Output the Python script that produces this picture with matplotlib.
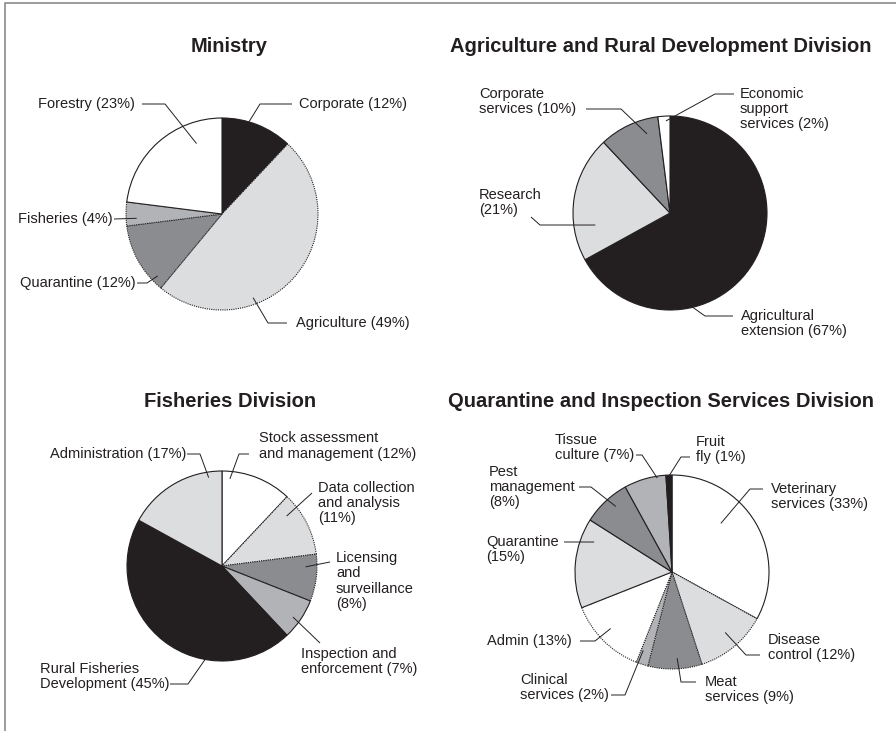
import matplotlib.pyplot as plt
import numpy as np

plt.rcParams['font.family'] = ['Liberation Sans', 'DejaVu Sans']

W, H = 896, 731

# fill shades
BLACK = '#231f20'
DARK = '#8b8c8f'
MID = '#b2b3b6'
LIGHT = '#dcdddf'
WHITE = '#ffffff'

# Ministry
ministry_values = [12, 49, 12, 4, 23]
ministry_labels = ['Corporate ({}%)', 'Agriculture ({}%)', 'Quarantine ({}%)',
                   'Fisheries ({}%)', 'Forestry ({}%)']
ministry_colors = [BLACK, LIGHT, DARK, MID, WHITE]
ministry_dotted = [False, True, True, True, False]

# Agriculture and Rural Development Division
agri_values = [67, 21, 10, 2]
agri_labels = ['Agricultural\nextension ({}%)', 'Research\n({}%)',
               'Corporate\nservices ({}%)', 'Economic\nsupport\nservices ({}%)']
agri_colors = [BLACK, LIGHT, DARK, WHITE]
agri_dotted = [False, False, False, False]

# Fisheries Division
fish_values = [12, 11, 8, 7, 45, 17]
fish_labels = ['Stock assessment\nand management ({}%)',
               'Data collection\nand analysis\n({}%)',
               'Licensing\nand\nsurveillance\n({}%)',
               'Inspection and\nenforcement ({}%)',
               'Rural Fisheries\nDevelopment ({}%)',
               'Administration ({}%)']
fish_colors = [WHITE, LIGHT, DARK, MID, BLACK, LIGHT]
fish_dotted = [False, True, True, False, False, False]

# Quarantine and Inspection Services Division
quar_values = [33, 12, 9, 2, 13, 15, 8, 7, 1]
quar_labels = ['Veterinary\nservices ({}%)', 'Disease\ncontrol ({}%)',
               'Meat\nservices ({}%)', 'Clinical\nservices ({}%)',
               'Admin ({}%)', 'Quarantine\n({}%)', 'Pest\nmanagement\n({}%)',
               'Tissue\nculture ({}%)', 'Fruit\nfly ({}%)']
quar_colors = [WHITE, LIGHT, DARK, MID, WHITE, LIGHT, DARK, MID, BLACK]
quar_dotted = [False, True, True, True, True, False, False, False, False]

# label placement: text x, text y, ha, leader points (pixels, from slice outward),
# position along slice (0..1 clockwise), radial fraction of the anchor
ministry_layout = [
    (299, 104, 'left', [(260, 104), (292, 104)], 0.37, 0.98),
    (296, 323, 'left', [(268, 323), (287, 323)], 0.66, 0.93),
    (136, 283, 'right', [(147, 283), (137, 283)], 0.15, 0.93),
    (113, 219, 'right', [(114, 219)], 0.30, 0.89),
    (135, 104, 'right', [(165, 104), (142, 104)], 0.76, 0.78),
]
agri_layout = [
    (741, 323.5, 'left', [(705, 316), (733, 316)], 0.69, 1.0),
    (479, 202.5, 'left', [(540, 225), (531, 217)], 0.26, 0.78),
    (479, 101.5, 'left', [(621, 109), (586, 109)], 0.75, 0.85),
    (740, 109, 'left', [(715, 94), (734, 94)], 0.65, 0.95),
]
fish_layout = [
    (259, 446, 'left', [(239, 454), (249, 454)], 0.12, 0.92),
    (318, 503, 'left', [(312, 493)], 0.23, 0.86),
    (336, 581, 'left', [(330, 562)], 0.27, 0.88),
    (301, 661.5, 'left', [(320, 643)], 0.56, 0.92),
    (40, 676.5, 'left', [(188, 684), (170, 684)], 0.33, 1.0),
    (186, 454, 'right', [(200, 454), (187, 454)], 0.86, 0.94),
]
quar_layout = [
    (771, 496.5, 'left', [(750, 489), (763, 489)], 0.38, 0.71),
    (768, 647.5, 'left', [(746, 655), (760, 655)], 0.46, 0.83),
    (705, 689.5, 'left', [(681, 682), (696, 682)], 0.45, 0.89),
    (520, 687.5, 'left', [(625, 695), (611, 695)], 0.80, 0.86),
    (572, 641, 'right', [(595, 641), (580, 641)], 0.55, 0.86),
    (486, 549.5, 'left', [(564, 542)], 0.79, 0.86),
    (489, 487, 'left', [(591, 487), (579, 487)], 0.59, 0.89),
    (555, 447.5, 'left', [(642, 455), (636, 455)], 0.79, 0.98),
    (696, 449.5, 'left', [(681, 457), (690, 457)], 0.60, 1.0),
]

fig = plt.figure(figsize=(W / 100, H / 100), dpi=100)
ax = fig.add_axes([0, 0, 1, 1])


def draw_pie(values, labels, colors, dotted, layout, cx, cy, r, title, tx, ty):
    wedges, _ = ax.pie(values, colors=colors, startangle=90, counterclock=False,
                       center=(cx, H - cy), radius=r,
                       wedgeprops=dict(edgecolor=BLACK, linewidth=0.8))
    for w, d in zip(wedges, dotted):
        if d:
            w.set_linestyle((0, (1, 1)))
    # leader lines run from a point inside each slice out to its label
    for w, v, lab, (lx, ly, ha, pts, t, rf) in zip(wedges, values, labels, layout):
        ang = np.radians(w.theta2 - t * (w.theta2 - w.theta1))
        xs = [cx + rf * r * np.cos(ang)] + [p[0] for p in pts]
        ys = [H - cy + rf * r * np.sin(ang)] + [H - p[1] for p in pts]
        ax.plot(xs, ys, color=BLACK, lw=0.7, solid_capstyle='butt')
        ax.text(lx, H - ly, lab.format(v), ha=ha, va='center', fontsize=10.5,
                linespacing=1.1, color=BLACK)
    ax.text(tx, H - ty, title, ha='center', va='baseline', fontsize=14.5,
            fontweight='bold', color=BLACK)


draw_pie(ministry_values, ministry_labels, ministry_colors, ministry_dotted,
         ministry_layout, 222, 214, 96, 'Ministry', 229, 52)
draw_pie(agri_values, agri_labels, agri_colors, agri_dotted,
         agri_layout, 670, 213, 97, 'Agriculture and Rural Development Division', 661, 52)
draw_pie(fish_values, fish_labels, fish_colors, fish_dotted,
         fish_layout, 222, 566, 95, 'Fisheries Division', 230, 407)
draw_pie(quar_values, quar_labels, quar_colors, quar_dotted,
         quar_layout, 672, 572, 97, 'Quarantine and Inspection Services Division', 661, 407)

# grey frame along the top and left
ax.plot([5, 5, W], [0, H - 3, H - 3], color='#8a8a8a', lw=1.2)

ax.set_xlim(0, W)
ax.set_ylim(0, H)
ax.axis('off')

plt.savefig('out.png', dpi=100)
